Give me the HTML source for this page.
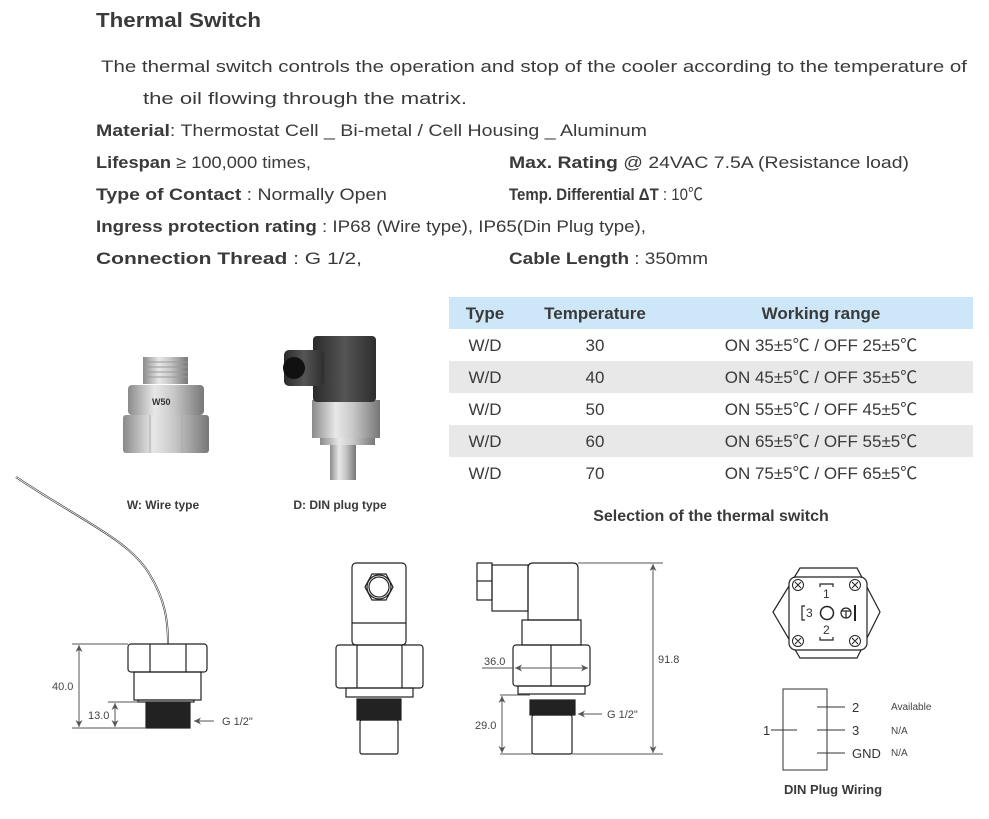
<!DOCTYPE html>
<html><head><meta charset="utf-8"><style>
html,body{margin:0;padding:0;background:#fff;}
svg{display:block;font-family:"Liberation Sans","Noto Sans CJK JP",sans-serif;}
</style></head><body>
<svg width="989" height="819" viewBox="0 0 989 819" xmlns="http://www.w3.org/2000/svg">
<defs>
<marker id="ar" viewBox="0 0 10 10" refX="10" refY="5" markerWidth="7" markerHeight="7" orient="auto-start-reverse"><path d="M0,0 L10,5 L0,10 L3,5 z" fill="#555"/></marker>
<linearGradient id="met" x1="0" x2="1"><stop offset="0" stop-color="#8a8a8a"/><stop offset=".35" stop-color="#e8e8e8"/><stop offset=".6" stop-color="#c8c8c8"/><stop offset="1" stop-color="#777"/></linearGradient>
<linearGradient id="blk" x1="0" x2="1"><stop offset="0" stop-color="#2a2a2a"/><stop offset=".5" stop-color="#555"/><stop offset="1" stop-color="#2e2e2e"/></linearGradient>
</defs>
<g fill="#3a3a3a">
<text x="96" y="27" font-size="20" font-weight="bold" textLength="165" lengthAdjust="spacingAndGlyphs">Thermal Switch</text>
<text x="101" y="72" font-size="17" textLength="866" lengthAdjust="spacingAndGlyphs">The thermal switch controls the operation and stop of the cooler according to the temperature of</text>
<text x="143" y="104" font-size="17" textLength="324" lengthAdjust="spacingAndGlyphs">the oil flowing through the matrix.</text>
<text x="96" y="136" font-size="17" textLength="551" lengthAdjust="spacingAndGlyphs"><tspan font-weight="bold">Material</tspan>: Thermostat Cell _ Bi-metal  / Cell Housing _ Aluminum</text>
<text x="96" y="168" font-size="17" textLength="215" lengthAdjust="spacingAndGlyphs"><tspan font-weight="bold">Lifespan</tspan> ≥ 100,000 times,</text>
<text x="509" y="168" font-size="17" textLength="400" lengthAdjust="spacingAndGlyphs"><tspan font-weight="bold">Max. Rating</tspan> @ 24VAC 7.5A  (Resistance load)</text>
<text x="96" y="200" font-size="17" textLength="291" lengthAdjust="spacingAndGlyphs"><tspan font-weight="bold">Type of Contact</tspan> : Normally Open</text>
<text x="509" y="200" font-size="17" textLength="194" lengthAdjust="spacingAndGlyphs"><tspan font-weight="bold">Temp. Differential ΔT</tspan> : 10℃</text>
<text x="96" y="232" font-size="17" textLength="550" lengthAdjust="spacingAndGlyphs"><tspan font-weight="bold">Ingress protection rating</tspan> : IP68 (Wire type), IP65(Din Plug type),</text>
<text x="96" y="264" font-size="17" textLength="266" lengthAdjust="spacingAndGlyphs"><tspan font-weight="bold">Connection Thread</tspan> : G 1/2,</text>
<text x="509" y="264" font-size="17" textLength="199" lengthAdjust="spacingAndGlyphs"><tspan font-weight="bold">Cable Length</tspan> : 350mm</text>
</g>
<!-- table -->
<rect x="449" y="297" width="524" height="32" fill="#cde7f8"/>
<rect x="449" y="361" width="524" height="32" fill="#e8e8e8"/>
<rect x="449" y="425" width="524" height="32" fill="#e8e8e8"/>
<g font-size="17" fill="#3a3a3a" text-anchor="middle">
<text x="485" y="319" font-weight="bold">Type</text>
<text x="595" y="319" font-weight="bold">Temperature</text>
<text x="821" y="319" font-weight="bold">Working range</text>
<text x="485" y="351">W/D</text><text x="595" y="351">30</text><text x="821" y="351">ON 35±5℃ / OFF 25±5℃</text>
<text x="485" y="383">W/D</text><text x="595" y="383">40</text><text x="821" y="383">ON 45±5℃  / OFF 35±5℃</text>
<text x="485" y="415">W/D</text><text x="595" y="415">50</text><text x="821" y="415">ON 55±5℃ / OFF 45±5℃</text>
<text x="485" y="447">W/D</text><text x="595" y="447">60</text><text x="821" y="447">ON 65±5℃ / OFF 55±5℃</text>
<text x="485" y="479">W/D</text><text x="595" y="479">70</text><text x="821" y="479">ON 75±5℃  / OFF 65±5℃</text>
<text x="711" y="521" font-weight="bold" font-size="16">Selection of the thermal switch</text>
</g>
<!-- photos -->
<g>
<rect x="143" y="357" width="45" height="27" fill="url(#met)"/>
<g stroke="#999" stroke-width="1"><line x1="143" y1="362" x2="188" y2="362"/><line x1="143" y1="367" x2="188" y2="367"/><line x1="143" y1="372" x2="188" y2="372"/><line x1="143" y1="377" x2="188" y2="377"/></g>
<rect x="128" y="385" width="76" height="30" rx="4" fill="url(#met)"/>
<rect x="123" y="415" width="86" height="38" rx="3" fill="url(#met)"/>
<line x1="150" y1="415" x2="150" y2="453" stroke="#aaa"/><line x1="182" y1="415" x2="182" y2="453" stroke="#aaa"/>
<text x="152" y="405" font-size="9" font-weight="bold" fill="#333">W50</text>
<rect x="320" y="395" width="55" height="50" fill="url(#met)"/>
<rect x="312" y="400" width="68" height="38" fill="url(#met)"/>
<rect x="330" y="445" width="26" height="35" fill="url(#met)"/>
<rect x="313" y="336" width="63" height="66" rx="4" fill="url(#blk)"/>
<rect x="284" y="350" width="40" height="36" rx="5" fill="url(#blk)"/>
<circle cx="294" cy="368" r="11" fill="#111"/>
</g>
<g font-size="12" font-weight="bold" fill="#3a3a3a" text-anchor="middle">
<text x="163" y="509">W: Wire type</text>
<text x="340" y="509">D: DIN plug type</text>
</g>
<!-- drawings -->
<g fill="none" stroke="#222" stroke-width="1.2">
<!-- wire type -->
<path d="M16,477 C80,520 130,540 150,575 C165,600 168,620 168,644" stroke="#333" stroke-width="2"/>
<path d="M16,477 C80,520 130,540 150,575 C165,600 168,620 168,644" stroke="#fff" stroke-width="0.8"/>
<rect x="128" y="644" width="79" height="28" rx="3"/>
<line x1="150" y1="644" x2="150" y2="672"/><line x1="186" y1="644" x2="186" y2="672"/>
<rect x="134" y="672" width="67" height="28"/>
<rect x="138" y="700" width="56" height="2"/>
<rect x="146" y="702" width="44" height="26" fill="#222"/>
<!-- middle -->
<rect x="352" y="563" width="54" height="82" rx="4"/>
<line x1="352" y1="623" x2="406" y2="623"/>
<polygon points="365,587 372,574 386,574 393,587 386,600 372,600"/>
<circle cx="379" cy="587" r="12"/><circle cx="379" cy="587" r="10"/>
<rect x="336" y="645" width="87" height="43" rx="3"/>
<line x1="357" y1="645" x2="357" y2="688"/><line x1="402" y1="645" x2="402" y2="688"/>
<rect x="346" y="688" width="67" height="9"/>
<rect x="357" y="699" width="44" height="21" fill="#222"/>
<rect x="360" y="720" width="38" height="34" rx="2"/>
<!-- right -->
<rect x="477" y="563" width="15" height="37"/><line x1="477" y1="581" x2="492" y2="581"/>
<rect x="492" y="565" width="36" height="46"/>
<path d="M528,620 L528,568 Q528,563 533,563 L573,563 Q578,563 578,568 L578,620 Z"/>
<rect x="522" y="620" width="59" height="25"/>
<rect x="513" y="645" width="77" height="41" rx="3"/>
<line x1="551" y1="645" x2="551" y2="686"/>
<rect x="518" y="686" width="67" height="8"/>
<rect x="530" y="700" width="45" height="15" fill="#222"/>
<rect x="532" y="715" width="40" height="39" rx="2"/>
</g>
<!-- dimensions -->
<g stroke="#555" stroke-width="1" fill="none">
<line x1="72" y1="644" x2="128" y2="644"/><line x1="72" y1="728" x2="146" y2="728"/>
<line x1="79" y1="645" x2="79" y2="727" marker-start="url(#ar)" marker-end="url(#ar)"/>
<line x1="108" y1="702" x2="138" y2="702"/>
<line x1="115" y1="703" x2="115" y2="727" marker-start="url(#ar)" marker-end="url(#ar)"/>
<line x1="214" y1="721" x2="194" y2="721" marker-end="url(#ar)"/>
<line x1="578" y1="563" x2="663" y2="563"/><line x1="572" y1="754" x2="663" y2="754"/>
<line x1="653" y1="564" x2="653" y2="753" marker-start="url(#ar)" marker-end="url(#ar)"/>
<line x1="482" y1="668" x2="514" y2="668"/>
<line x1="515" y1="668" x2="588" y2="668" marker-start="url(#ar)" marker-end="url(#ar)"/>
<line x1="500" y1="695" x2="530" y2="695"/><line x1="500" y1="754" x2="532" y2="754"/>
<line x1="502" y1="696" x2="502" y2="753" marker-start="url(#ar)" marker-end="url(#ar)"/>
<line x1="602" y1="714" x2="578" y2="714" marker-end="url(#ar)"/>
</g>
<g font-size="11" fill="#444">
<text x="52" y="690">40.0</text><text x="88" y="719">13.0</text><text x="222" y="725">G 1/2"</text>
<text x="658" y="663">91.8</text><text x="484" y="665">36.0</text><text x="475" y="729">29.0</text><text x="607" y="718">G 1/2"</text>
</g>
<!-- DIN face -->
<g fill="none" stroke="#222" stroke-width="1.2">
<polygon points="800,568 857,568 880,612 857,658 800,658 773,612"/>
<rect x="789" y="577" width="78" height="73" rx="7" fill="#fff"/>
<g stroke-width="1">
<circle cx="798" cy="585" r="5.5"/><circle cx="855" cy="585" r="5.5"/><circle cx="798" cy="641" r="5.5"/><circle cx="855" cy="641" r="5.5"/>
<path d="M795,582 l6,6 M801,582 l-6,6 M852,582 l6,6 M858,582 l-6,6 M795,638 l6,6 M801,638 l-6,6 M852,638 l6,6 M858,638 l-6,6"/>
</g>
<circle cx="827" cy="613" r="6.5" stroke-width="1.5"/>
<circle cx="846" cy="613" r="5"/><line x1="841" y1="611" x2="851" y2="611"/><line x1="846" y1="611" x2="846" y2="618"/>
<line x1="855" y1="605" x2="855" y2="621" stroke-width="2"/>
<path d="M820,587 v-3 h13 v3 M820,637 v3 h13 v-3 M805,606 h-3 v14 h3"/>
</g>
<g font-size="12" fill="#333">
<text x="823" y="598">1</text><text x="806" y="617">3</text><text x="823" y="634">2</text>
</g>
<!-- wiring -->
<g stroke="#333" stroke-width="1" fill="none">
<rect x="783" y="689" width="44" height="81"/>
<line x1="817" y1="707" x2="845" y2="707"/><line x1="817" y1="730" x2="845" y2="730"/><line x1="817" y1="753" x2="845" y2="753"/>
<line x1="771" y1="730" x2="797" y2="730"/>
</g>
<g font-size="13" fill="#333">
<text x="852" y="712">2</text><text x="852" y="735">3</text><text x="852" y="758">GND</text><text x="763" y="735">1</text>
</g>
<g font-size="10" fill="#444">
<text x="891" y="710">Available</text><text x="891" y="734">N/A</text><text x="891" y="756">N/A</text>
</g>
<text x="833" y="794" font-size="13" font-weight="bold" fill="#3a3a3a" text-anchor="middle">DIN Plug Wiring</text>
</svg>
</body></html>
